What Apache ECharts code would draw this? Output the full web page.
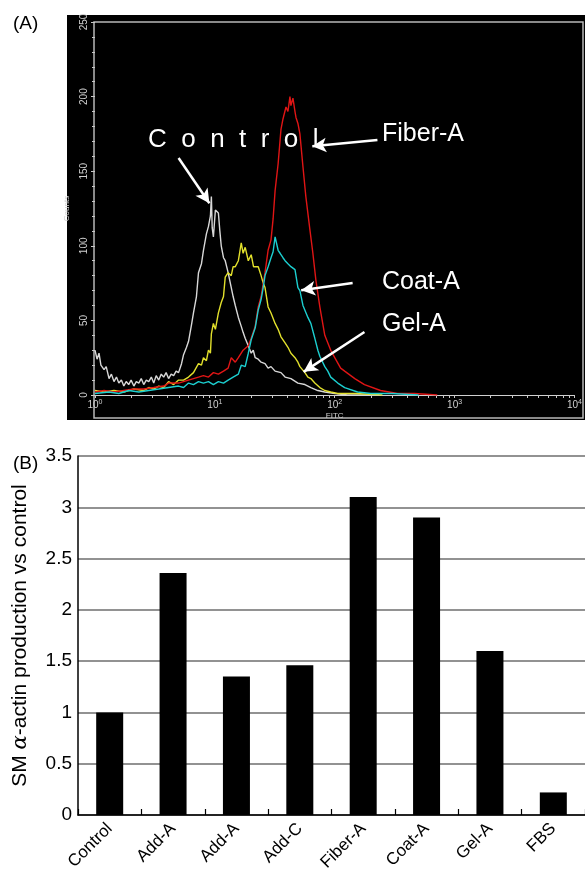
<!DOCTYPE html>
<html>
<head>
<meta charset="utf-8">
<script src="https://cdn.jsdelivr.net/npm/echarts@6/dist/echarts.min.js"></script>
<style>
html,body{margin:0;padding:0;background:#fff;}
#c{width:585px;height:874px;}
</style>
</head>
<body>
<div id="c"></div>
<script>
// ---------- Panel A: flow cytometry histograms (FITC value, counts) ----------
const controlHist = [[1.00,30],[1.04,24],[1.08,28],[1.12,20],[1.19,17],[1.24,19],[1.31,11],[1.37,14],[1.44,9],[1.51,12],[1.58,8],[1.66,10],[1.74,6],[1.82,9],[1.91,7],[2.0,10],[2.11,6],[2.21,9],[2.32,8],[2.43,11],[2.55,7],[2.68,10],[2.81,9],[2.95,12],[3.09,8],[3.24,13],[3.40,10],[3.57,14],[3.74,12],[3.92,15],[4.11,11],[4.32,14],[4.53,13],[4.75,16],[4.98,15],[5.27,21],[5.48,27],[5.80,32],[6.03,36],[6.38,47],[6.63,55],[7.02,66],[7.30,82],[7.73,88],[8.03,97],[8.50,108],[8.84,113],[9.18,120],[9.35,133],[9.50,112],[9.72,106],[10.1,124],[10.7,122],[11.0,110],[11.3,100],[11.8,92],[12.2,90],[12.9,82],[13.7,72],[14.2,66],[14.8,60],[15.7,52],[16.6,46],[17.2,42],[17.9,38],[19.0,33],[20.1,28],[20.9,30],[21.7,25],[23.0,24],[24.3,22],[26.2,21],[27.8,18],[29.4,19],[31.8,16],[35.6,15],[38.5,12],[43.1,11],[49.3,8],[56.4,7],[63.2,5],[72.3,3],[82.6,2],[100,1],[128,0],[200,0]];
const gelHist = [[1.00,3],[1.19,2],[1.44,3],[1.74,2],[2.11,4],[2.55,3],[2.81,5],[3.09,4],[3.40,6],[3.74,5],[4.11,9],[4.53,7],[4.98,10],[5.48,10],[6.03,12],[6.63,15],[7.30,21],[7.73,20],[8.03,25],[8.50,23],[8.84,30],[9.18,28],[9.35,41],[9.72,48],[10.1,44],[10.7,55],[11.3,62],[11.8,66],[12.2,79],[12.9,82],[13.7,80],[14.2,86],[14.8,86],[15.7,90],[16.6,102],[17.2,95],[17.9,99],[19.0,90],[20.1,94],[21.0,86],[23.0,86],[24.3,80],[25.3,75],[26.2,72],[27.8,59],[29.4,55],[31.8,48],[33.7,44],[35.6,39],[38.5,35],[40.7,32],[43.1,28],[46.6,25],[49.3,22],[51.2,19],[56.4,15],[59.7,12],[63.2,11],[68.2,8],[75.1,5],[82.6,3],[92.6,2],[106,1],[150,1],[250,0]];
const coatHist = [[1.00,1],[1.31,2],[1.58,1],[1.91,3],[2.32,2],[2.81,3],[3.40,4],[4.11,5],[4.98,6],[5.48,5],[6.03,8],[6.63,7],[7.30,9],[8.03,8],[8.84,9],[9.72,7],[10.7,9],[11.8,8],[12.9,10],[14.2,12],[15.7,14],[16.6,20],[17.9,19],[19.0,28],[20.1,37],[21.7,45],[23.0,57],[24.3,64],[25.3,72],[26.2,80],[27.8,86],[29.4,92],[30.6,96],[31.8,106],[33.7,97],[35.0,95],[37.0,92],[38.5,90],[40.7,88],[43.1,86],[46.6,84],[49.3,72],[51.2,70],[54.3,60],[56.4,59],[59.7,52],[63.2,48],[68.2,38],[72.3,30],[75.1,26],[82.6,19],[87.5,16],[92.6,12],[106,8],[121,5],[155,2],[200,1],[300,1],[500,0]];
const fiberHist = [[1.00,2],[1.19,3],[1.44,2],[1.74,3],[2.11,4],[2.55,4],[3.09,5],[3.74,6],[4.11,8],[4.98,8],[5.48,9],[6.63,11],[7.30,12],[8.03,13],[8.84,12],[9.72,15],[10.7,14],[11.8,16],[12.9,18],[13.7,25],[14.8,22],[15.7,25],[17.2,30],[19.0,33],[20.1,38],[21.7,46],[23.0,59],[24.3,66],[26.2,82],[27.8,97],[29.4,104],[30.6,118],[31.8,137],[33.7,155],[35.6,178],[37.0,185],[39.2,193],[40.7,190],[42.3,200],[43.1,194],[44.8,199],[46.6,190],[47.5,186],[49.3,182],[51.2,175],[54.3,153],[57.4,133],[62.0,111],[65.7,95],[69.6,77],[75.1,59],[82.6,40],[92.6,30],[100,25],[112,18],[121,16],[147,11],[177,7],[241,3],[333,1],[461,1],[716,0]];
const fitcTickValues = [1,2,3,4,5,6,7,8,9,10,20,30,40,50,60,70,80,90,100,200,300,400,500,600,700,800,900,1000,2000,3000,4000,5000,6000,7000,8000,9000,10000];
const fitcLabelValues = [1,10,100,1000,10000];
// annotation arrows: [tail, head] in (FITC, counts)
const arrowControl = [[4.98,158.8],[9.0,128.5]];
const arrowFiber = [[227,170.9],[65,166.7]];
const arrowCoat = [[141,75.1],[52.5,70.2]];
const arrowGel = [[177,42.2],[55,15.5]];

// ---------- Panel B: bar chart ----------
const categories = ['Control','Add-A','Add-A','Add-C','Fiber-A','Coat-A','Gel-A','FBS'];
const barValues = [1.0,2.36,1.35,1.46,3.10,2.90,1.60,0.22];

const FONT = 'Liberation Sans, Arial, sans-serif';
const chart = echarts.init(document.getElementById('c'), null, {renderer:'canvas'});

function lineSeries(name, data, color, extra){
  return Object.assign({
    name, type:'line', data, xAxisIndex:2, yAxisIndex:2,
    showSymbol:false, symbol:'none', smooth:false, animation:false, silent:true,
    lineStyle:{color, width:1.4}, z:3
  }, extra||{});
}
function arrowPair(a){ return [{coord:a[0]},{coord:a[1]}]; }

const option = {
  animation:false,
  title:[
    {text:'(A)', left:8, top:9, textStyle:{fontFamily:FONT, fontSize:19, fontWeight:'normal', color:'#000'}},
    {text:'(B)', left:8, top:449, textStyle:{fontFamily:FONT, fontSize:19, fontWeight:'normal', color:'#000'}}
  ],
  grid:[
    {left:67, top:15, width:518, height:405, show:true, backgroundColor:'#000', borderWidth:0},
    {left:94, top:22, width:489, height:396, show:true, backgroundColor:'transparent', borderColor:'#b8b8b8', borderWidth:1.5},
    {left:95, top:22, width:485, height:373},
    {left:78, top:456, width:510, height:359}
  ],
  xAxis:[
    {gridIndex:0, type:'value', show:false},
    {gridIndex:1, type:'value', show:false},
    {gridIndex:2, type:'log', logBase:10, min:1, max:10000,
      axisLine:{show:true, lineStyle:{color:'#d0d0d0', width:1.2}},
      axisTick:{show:true, length:3, inside:false, lineStyle:{color:'#c8c8c8'}, customValues:fitcTickValues},
      axisLabel:{show:true, margin:4, color:'#d0d0d0', fontFamily:FONT, fontSize:9,
        customValues:fitcLabelValues,
        formatter:function(v){ return '{b|10}{s|' + Math.round(Math.log10(v)) + '}'; },
        rich:{b:{fontSize:10, color:'#d0d0d0', fontFamily:FONT, lineHeight:12}, s:{fontSize:7, color:'#d0d0d0', fontFamily:FONT, verticalAlign:'top', lineHeight:12, padding:[0,0,5,0]}}
      },
      splitLine:{show:false},
      name:'FITC', nameLocation:'middle', nameGap:14,
      nameTextStyle:{color:'#d0d0d0', fontFamily:FONT, fontSize:8}
    },
    {gridIndex:3, type:'category', data:categories,
      axisLine:{show:true, lineStyle:{color:'#000', width:1.5}},
      axisTick:{show:true, inside:true, length:6, alignWithLabel:false, lineStyle:{color:'#000', width:1.2}},
      axisLabel:{rotate:45, margin:11, color:'#000', fontFamily:FONT, fontSize:17, interval:0},
      splitLine:{show:false}
    }
  ],
  yAxis:[
    {gridIndex:0, type:'value', show:false},
    {gridIndex:1, type:'value', show:false},
    {gridIndex:2, type:'value', min:0, max:250, interval:50,
      axisLine:{show:false},
      axisTick:{show:true, length:4, lineStyle:{color:'#c8c8c8'}},
      minorTick:{show:true, splitNumber:5, length:3, lineStyle:{color:'#c8c8c8'}},
      axisLabel:{rotate:90, margin:6, color:'#d0d0d0', fontFamily:FONT, fontSize:10},
      splitLine:{show:false},
      name:'Counts', nameLocation:'middle', nameRotate:90, nameGap:20,
      nameTextStyle:{color:'#d0d0d0', fontFamily:FONT, fontSize:8}
    },
    {gridIndex:3, type:'value', min:0, max:3.5, interval:0.5,
      axisLine:{show:true, lineStyle:{color:'#000', width:1.5}},
      axisTick:{show:false},
      axisLabel:{margin:6, color:'#000', fontFamily:FONT, fontSize:19,
        formatter:function(v){ return String(v); }},
      splitLine:{show:true, lineStyle:{color:'#6e6e6e', width:1.5}},
      name:'SM {a|α}-actin production vs control', nameLocation:'middle', nameRotate:90, nameGap:47,
      nameTextStyle:{color:'#000', fontFamily:FONT, fontSize:21,
        rich:{a:{fontFamily:'DejaVu Serif, serif', fontStyle:'italic', fontSize:21, color:'#000'}}}
    }
  ],
  series:[
    lineSeries('Control', controlHist, '#d8d8d8', {
      markLine:{
        silent:true, animation:false, symbol:['none','arrow'], symbolSize:[11,14],
        lineStyle:{color:'#ffffff', width:2.5, type:'solid'},
        label:{show:false},
        data:[arrowPair(arrowControl), arrowPair(arrowFiber), arrowPair(arrowCoat), arrowPair(arrowGel)]
      }
    }),
    lineSeries('Gel-A', gelHist, '#e2e02c'),
    lineSeries('Fiber-A', fiberHist, '#e01515'),
    lineSeries('Coat-A', coatHist, '#1ccfd0'),
    {type:'bar', name:'SM actin', data:barValues, xAxisIndex:3, yAxisIndex:3,
      barWidth:27, itemStyle:{color:'#000'}, silent:true, animation:false, z:3}
  ],
  graphic:[
    {type:'text', left:148, top:127, silent:true, z:10, style:{text:'C  o  n  t  r  o  l', fill:'#fff', font:'26px ' + FONT}},
    {type:'text', left:382, top:122, silent:true, z:10, style:{text:'Fiber-A', fill:'#fff', font:'25px ' + FONT}},
    {type:'text', left:382, top:270, silent:true, z:10, style:{text:'Coat-A', fill:'#fff', font:'25px ' + FONT}},
    {type:'text', left:382, top:312, silent:true, z:10, style:{text:'Gel-A', fill:'#fff', font:'25px ' + FONT}}
  ]
};
chart.setOption(option);
</script>
</body>
</html>
